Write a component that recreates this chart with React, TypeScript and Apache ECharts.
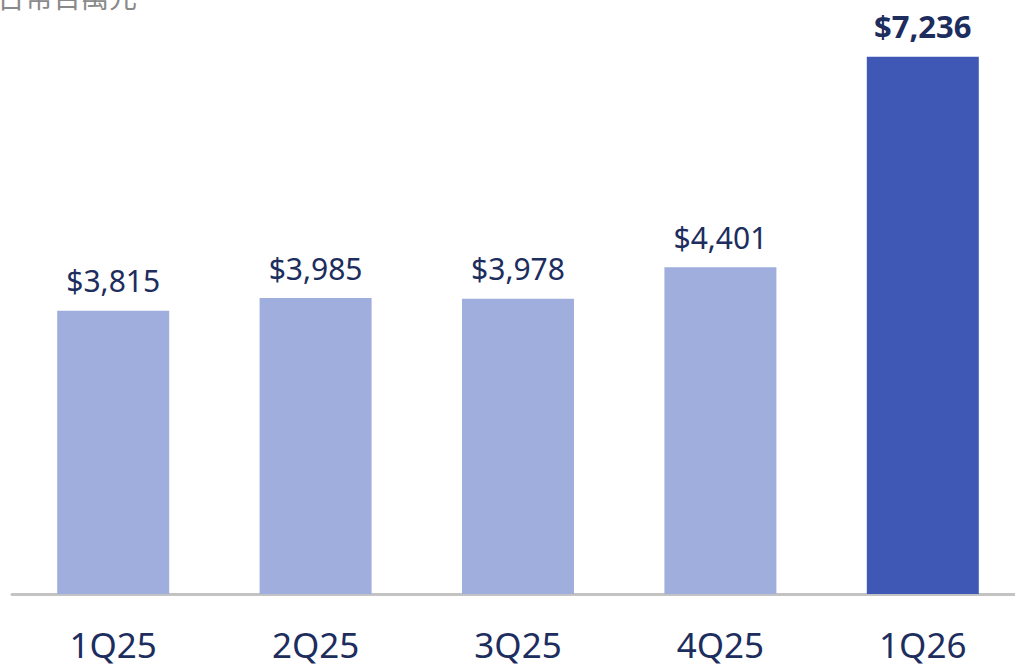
import React, { useEffect, useRef } from "react";
import * as echarts from "echarts";

const categories = ["1Q25", "2Q25", "3Q25", "4Q25", "1Q26"];
const values = [3815, 3985, 3978, 4401, 7236];
const highlightIndex = 4;
const titleText = "單位：新台幣百萬元";

export default function App() {
  const ref = useRef<HTMLDivElement>(null);
  useEffect(() => {
    const chart = echarts.init(ref.current!, null, { renderer: "svg" });
    const fmt = (v: number) => "$" + v.toLocaleString("en-US");
    chart.setOption({
      animation: false,
      backgroundColor: "#ffffff",
      grid: { left: 12, right: 0, top: 0, bottom: 75, containLabel: false },
      xAxis: {
        type: "category",
        data: categories,
        axisLine: { show: true, lineStyle: { color: "#c3c3c3", width: 3 } },
        axisTick: { show: false },
        axisLabel: {
          color: "#1c2d5e",
          fontSize: 35,
          lineHeight: 36,
          fontFamily: "Noto Sans",
          margin: 32,
        },
      },
      yAxis: {
        type: "value",
        min: 0,
        max: 8000,
        show: false,
        splitLine: { show: false },
      },
      graphic: [
        {
          type: "text",
          x: 137,
          y: 10,
          style: {
            text: titleText,
            fill: "#8a8a8a",
            fontSize: 28,
            fontFamily: "Noto Sans CJK TC",
            textAlign: "right",
            textVerticalAlign: "bottom",
          },
        },
      ],
      series: [
        {
          type: "bar",
          barWidth: 112,
          data: values.map((v, i) => ({
            value: v,
            itemStyle: { color: i === highlightIndex ? "#3f58b5" : "#a0aedd" },
            label: {
              show: true,
              position: "top",
              distance: 15,
              formatter: () => fmt(v),
              color: "#1c2d5e",
              fontSize: i === highlightIndex ? 31 : 30,
              fontWeight: i === highlightIndex ? "bold" : "normal",
              fontFamily: "Noto Sans",
            },
          })),
        },
      ],
    });
    return () => chart.dispose();
  }, []);
  return (
    <div
      style={{
        position: "fixed",
        left: 0,
        top: 0,
        width: 1015,
        height: 669,
        overflow: "hidden",
      }}
    >
      <div ref={ref} style={{ width: 1024, height: 669 }} />
    </div>
  );
}
